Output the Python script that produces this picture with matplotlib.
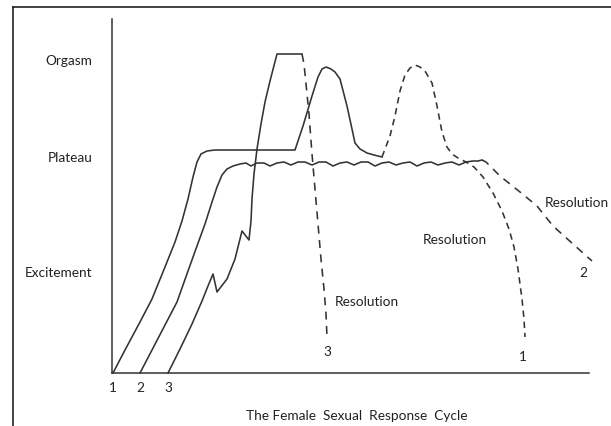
import matplotlib.pyplot as plt
from matplotlib.lines import Line2D

# hand drawn diagram (x = time, y = arousal)
levels = [102, 217, 314]
level_names = ['Excitement', 'Plateau', 'Orgasm']
starts = [1, 28, 56]
start_names = ['1', '2', '3']

# pattern 1: excitement -> plateau -> orgasm -> back to plateau -> 2nd orgasm -> resolution
c1_x = [1, 13, 28, 40, 53, 63, 70, 76, 81, 85, 89, 95, 103, 183, 191, 200, 206, 210, 214,
        219, 223, 228, 235, 240, 243, 248, 255, 262, 270]
c1_y = [0, 23, 51, 74, 106, 131, 152, 174, 196, 211, 219, 222, 223, 223, 247, 277, 296, 304, 306,
        304, 301, 294, 267, 244, 230, 224, 220, 218, 216]
c1d_x = [270, 278, 283, 288, 293, 298, 303, 308, 313, 320, 325, 330, 335, 340, 346, 354, 362,
         371, 381, 390, 397, 402, 406, 410, 412, 413]
c1d_y = [216, 237, 257, 282, 298, 305, 308, 306, 302, 290, 267, 241, 226, 219, 215, 211, 206,
         196, 180, 162, 144, 126, 104, 74, 54, 36]

# pattern 2: long wavy plateau, slow resolution
c2_x = [28, 40, 53, 65, 76, 85, 93, 100, 105, 110, 115, 121, 128,
        134, 139, 145, 152, 158, 165, 172, 179, 186, 193, 200, 207, 214, 221, 228, 235, 242,
        249, 256, 263, 270, 277, 284, 291, 298, 305, 312, 319, 326, 333, 340, 347, 354, 361,
        366, 370]
c2_y = [0, 23, 48, 71, 102, 127, 149, 171, 186, 198, 204, 207, 209,
        210, 207, 210, 210, 207, 210, 211, 208, 211, 211, 208, 211, 211, 207, 210, 211, 208,
        211, 211, 207, 210, 211, 208, 210, 211, 207, 210, 211, 208, 210, 211, 208, 211, 212,
        212, 213]
c2d_x = [370, 374, 378, 388, 408, 425, 441, 461, 480]
c2d_y = [213, 211, 207, 197, 181, 167, 147, 129, 112]

# pattern 3: jagged excitement, straight to orgasm, fast resolution
c3_x = [56, 68, 80, 90, 96, 101, 105, 115, 123, 130, 137, 139, 140, 142, 145, 149, 153, 158,
        165, 190]
c3_y = [0, 24, 49, 72, 87, 99, 81, 94, 114, 142, 133, 152, 174, 199, 224, 249, 271, 292,
        319, 319]
c3d_x = [190, 192, 194, 197, 200, 203, 206, 209, 212, 214, 215]
c3d_y = [319, 309, 289, 259, 219, 184, 149, 114, 84, 59, 36]

ink = '#333333'
txt = '#222222'
font = 'Lato'
fs = 9.8

W, H = 611, 427
fig = plt.figure(figsize=(W / 100, H / 100), dpi=100)
ax = fig.add_axes([112 / W, 53 / H, 477 / W, 354 / H])
ax.set_xlim(0, 477)
ax.set_ylim(0, 354)

for side in ['top', 'right']:
    ax.spines[side].set_visible(False)
for side in ['left', 'bottom']:
    ax.spines[side].set_color(ink)
    ax.spines[side].set_linewidth(1.1)

ax.set_yticks(levels)
ax.set_yticklabels(level_names, family=font, fontsize=fs, color=txt)
ax.set_xticks(starts)
ax.set_xticklabels(start_names, family=font, fontsize=fs, color=txt)
ax.tick_params(length=0)
ax.tick_params(axis='y', pad=14)
ax.tick_params(axis='x', pad=6)
ax.set_xlabel('The Female  Sexual  Response  Cycle', family=font, fontsize=fs, color=txt)
ax.xaxis.set_label_coords(245 / 477, -36 / 354)

kw = dict(color=ink, lw=1.15, clip_on=False)
ax.plot(c1_x, c1_y, **kw)
ax.plot(c1d_x, c1d_y, ls=(0, (4, 3)), **kw)
ax.plot(c2_x, c2_y, **kw)
ax.plot(c2d_x, c2d_y, ls=(0, (5, 4)), **kw)
ax.plot(c3_x, c3_y, **kw)
ax.plot(c3d_x, c3d_y, ls=(0, (5, 4)), **kw)

tk = dict(family=font, fontsize=fs, color=txt, va='center')
ax.text(215, 22, '3', ha='center', **tk)
ax.text(411, 17, '1', ha='center', **tk)
ax.text(471, 101, '2', ha='center', **tk)
ax.text(223, 72, 'Resolution', ha='left', clip_on=False, **tk)
ax.text(343, 134, 'Resolution', ha='center', **tk)
ax.text(497, 171, 'Resolution', ha='right', clip_on=False, **tk)

# outer frame (cropped on the right and bottom)
fig.add_artist(Line2D([13 / W, 13 / W], [0, 1 - 8 / H], color='#222222', lw=1.2))
fig.add_artist(Line2D([13 / W, 1], [1 - 8 / H, 1 - 8 / H], color='#222222', lw=1.2))

fig.savefig('out.png', dpi=100)
